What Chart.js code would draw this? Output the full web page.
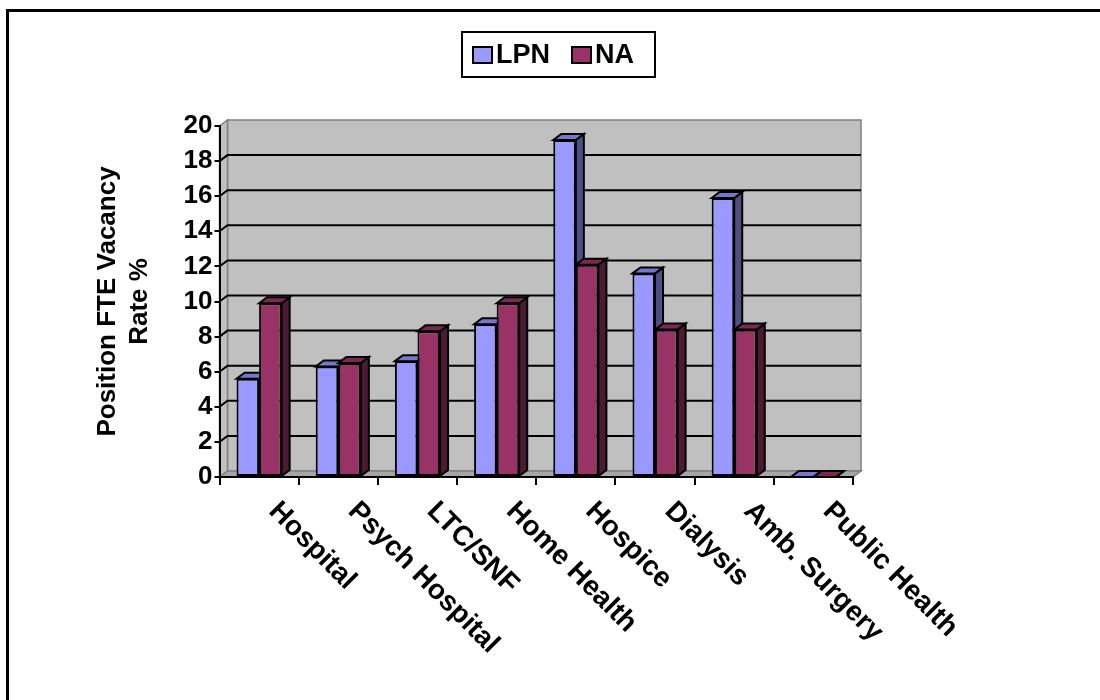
<!DOCTYPE html>
<html>
<head>
<meta charset="utf-8">
<script src="https://cdn.jsdelivr.net/npm/chart.js@4.4.0/dist/chart.umd.min.js"></script>
<style>
  html, body { margin: 0; padding: 0; background: #fff; }
  canvas { display: block; }
</style>
</head>
<body>
<canvas id="vacancyChart" width="1100" height="700"></canvas>
<script>
// vacancy rates by setting
const categories = ['Hospital', 'Psych Hospital', 'LTC/SNF', 'Home Health', 'Hospice', 'Dialysis', 'Amb. Surgery', 'Public Health'];
const lpnValues = [5.6, 6.3, 6.6, 8.7, 19.2, 11.6, 15.9, 0];
const naValues = [9.9, 6.5, 8.3, 9.9, 12.1, 8.4, 8.4, 0];
const seriesNames = ['LPN', 'NA'];
const yTitle = ['Position FTE Vacancy', 'Rate %'];

const FONT = "'Liberation Sans', Arial, sans-serif";
const frontColors = ['#9999ff', '#993366'];
const topColors = ['#7676cc', '#7a2952'];
const sideColors = ['#4f4f85', '#4c1a33'];
const DX = 8, DY = 6;

function poly(ctx, pts, fill, stroke, lw) {
  ctx.beginPath();
  ctx.moveTo(pts[0][0], pts[0][1]);
  for (let i = 1; i < pts.length; i++) ctx.lineTo(pts[i][0], pts[i][1]);
  ctx.closePath();
  ctx.fillStyle = fill;
  ctx.fill();
  ctx.strokeStyle = stroke;
  ctx.lineWidth = lw;
  ctx.stroke();
}

const excel3d = {
  id: 'excel3d',
  beforeDraw(chart) {
    const ctx = chart.ctx;
    const a = chart.chartArea;
    const ys = chart.scales.y;
    ctx.save();
    ctx.fillStyle = '#fff';
    ctx.fillRect(0, 0, chart.width, chart.height);

    // outer frame (only top and left visible)
    ctx.strokeStyle = '#000';
    ctx.lineWidth = 3;
    ctx.beginPath();
    ctx.moveTo(7.5, 700);
    ctx.lineTo(7.5, 10.5);
    ctx.lineTo(1100, 10.5);
    ctx.stroke();

    // back wall, side wall, floor
    poly(ctx, [[a.left + DX, a.top - DY], [a.right + DX, a.top - DY], [a.right + DX, a.bottom - DY], [a.left + DX, a.bottom - DY]], '#c0c0c0', '#808080', 1.5);
    poly(ctx, [[a.left, a.top], [a.left + DX, a.top - DY], [a.left + DX, a.bottom - DY], [a.left, a.bottom]], '#c0c0c0', '#808080', 1.5);
    poly(ctx, [[a.left, a.bottom], [a.left + DX, a.bottom - DY], [a.right + DX, a.bottom - DY], [a.right, a.bottom]], '#a6a6a6', '#808080', 1.5);

    // gridlines on walls
    ctx.strokeStyle = '#000';
    ctx.lineWidth = 2;
    const step = ys.options.ticks.stepSize;
    for (let v = step; v < ys.max; v += step) {
      const py = ys.getPixelForValue(v);
      ctx.beginPath();
      ctx.moveTo(a.left, py);
      ctx.lineTo(a.left + DX, py - DY);
      ctx.lineTo(a.right + DX, py - DY);
      ctx.stroke();
    }
    ctx.restore();
  },
  beforeDatasetsDraw(chart) {
    const ctx = chart.ctx;
    ctx.save();
    ctx.lineJoin = 'miter';
    for (let i = 0; i < categories.length; i++) {
      for (let d = 0; d < chart.data.datasets.length; d++) {
        const el = chart.getDatasetMeta(d).data[i];
        const p = el.getProps(['x', 'y', 'width', 'base'], true);
        const l = p.x - p.width / 2, r = p.x + p.width / 2;
        // side face
        poly(ctx, [[r, p.y], [r + DX, p.y - DY], [r + DX, p.base - DY], [r, p.base]], sideColors[d], '#000', 2);
        // top face
        poly(ctx, [[l, p.y], [l + DX, p.y - DY], [r + DX, p.y - DY], [r, p.y]], topColors[d], '#000', 2);
      }
    }
    ctx.restore();
  },
  afterDraw(chart) {
    const ctx = chart.ctx;
    const xs = chart.scales.x;
    const a = chart.chartArea;
    ctx.save();
    ctx.fillStyle = '#000';

    // category labels, rotated down to the right
    ctx.font = 'bold 28px ' + FONT;
    ctx.textAlign = 'left';
    ctx.textBaseline = 'top';
    categories.forEach((c, i) => {
      const px = xs.getPixelForValue(i);
      ctx.save();
      ctx.translate(px + 24, 497);
      ctx.rotate(Math.PI / 4);
      ctx.fillText(c, 0, 0);
      ctx.restore();
    });

    // y axis title (two lines)
    ctx.font = 'bold 26px ' + FONT;
    ctx.textAlign = 'center';
    ctx.textBaseline = 'middle';
    const cy = (a.top + a.bottom) / 2;
    [108, 140].forEach((x, k) => {
      ctx.save();
      ctx.translate(x, cy);
      ctx.rotate(-Math.PI / 2);
      ctx.fillText(yTitle[k], 0, 0);
      ctx.restore();
    });

    // legend box
    ctx.fillStyle = '#fff';
    ctx.fillRect(462, 32, 193, 45);
    ctx.strokeStyle = '#000';
    ctx.lineWidth = 2;
    ctx.strokeRect(462, 32, 193, 45);
    ctx.font = 'bold 27px ' + FONT;
    ctx.textAlign = 'left';
    ctx.textBaseline = 'middle';
    const lx = [473, 572];
    seriesNames.forEach((n, k) => {
      ctx.fillStyle = frontColors[k];
      ctx.fillRect(lx[k], 47, 19, 16);
      ctx.strokeRect(lx[k], 47, 19, 16);
      ctx.fillStyle = '#000';
      ctx.fillText(n, lx[k] + 23, 56);
    });
    ctx.restore();
  }
};

const ctxVacancy = document.getElementById('vacancyChart').getContext('2d');

new Chart(ctxVacancy, {
  type: 'bar',
  data: {
    labels: categories,
    datasets: [
      { label: seriesNames[0], data: lpnValues, backgroundColor: frontColors[0] },
      { label: seriesNames[1], data: naValues, backgroundColor: frontColors[1] }
    ]
  },
  options: {
    responsive: false,
    animation: false,
    devicePixelRatio: 1,
    layout: { padding: { top: 126, right: 247, left: 0, bottom: 0 } },
    datasets: {
      bar: {
        categoryPercentage: 0.57,
        barPercentage: 1,
        borderColor: '#000',
        borderWidth: 2,
        borderSkipped: false
      }
    },
    plugins: {
      legend: { display: false },
      tooltip: { enabled: false }
    },
    scales: {
      x: {
        grid: { offset: true, drawOnChartArea: false, color: '#000', lineWidth: 2, tickLength: 8 },
        border: { display: true, color: '#000', width: 2 },
        ticks: { display: false },
        afterFit(scale) { scale.height = 223; }
      },
      y: {
        min: 0,
        max: 20,
        ticks: { stepSize: 2, color: '#000', padding: 2, font: { family: FONT, size: 26, weight: 'bold' } },
        grid: { drawOnChartArea: false, color: '#000', lineWidth: 2, tickLength: 5 },
        border: { display: true, color: '#000', width: 2 },
        afterFit(scale) { scale.width = 219.5; }
      }
    }
  },
  plugins: [excel3d]
});
</script>
</body>
</html>
